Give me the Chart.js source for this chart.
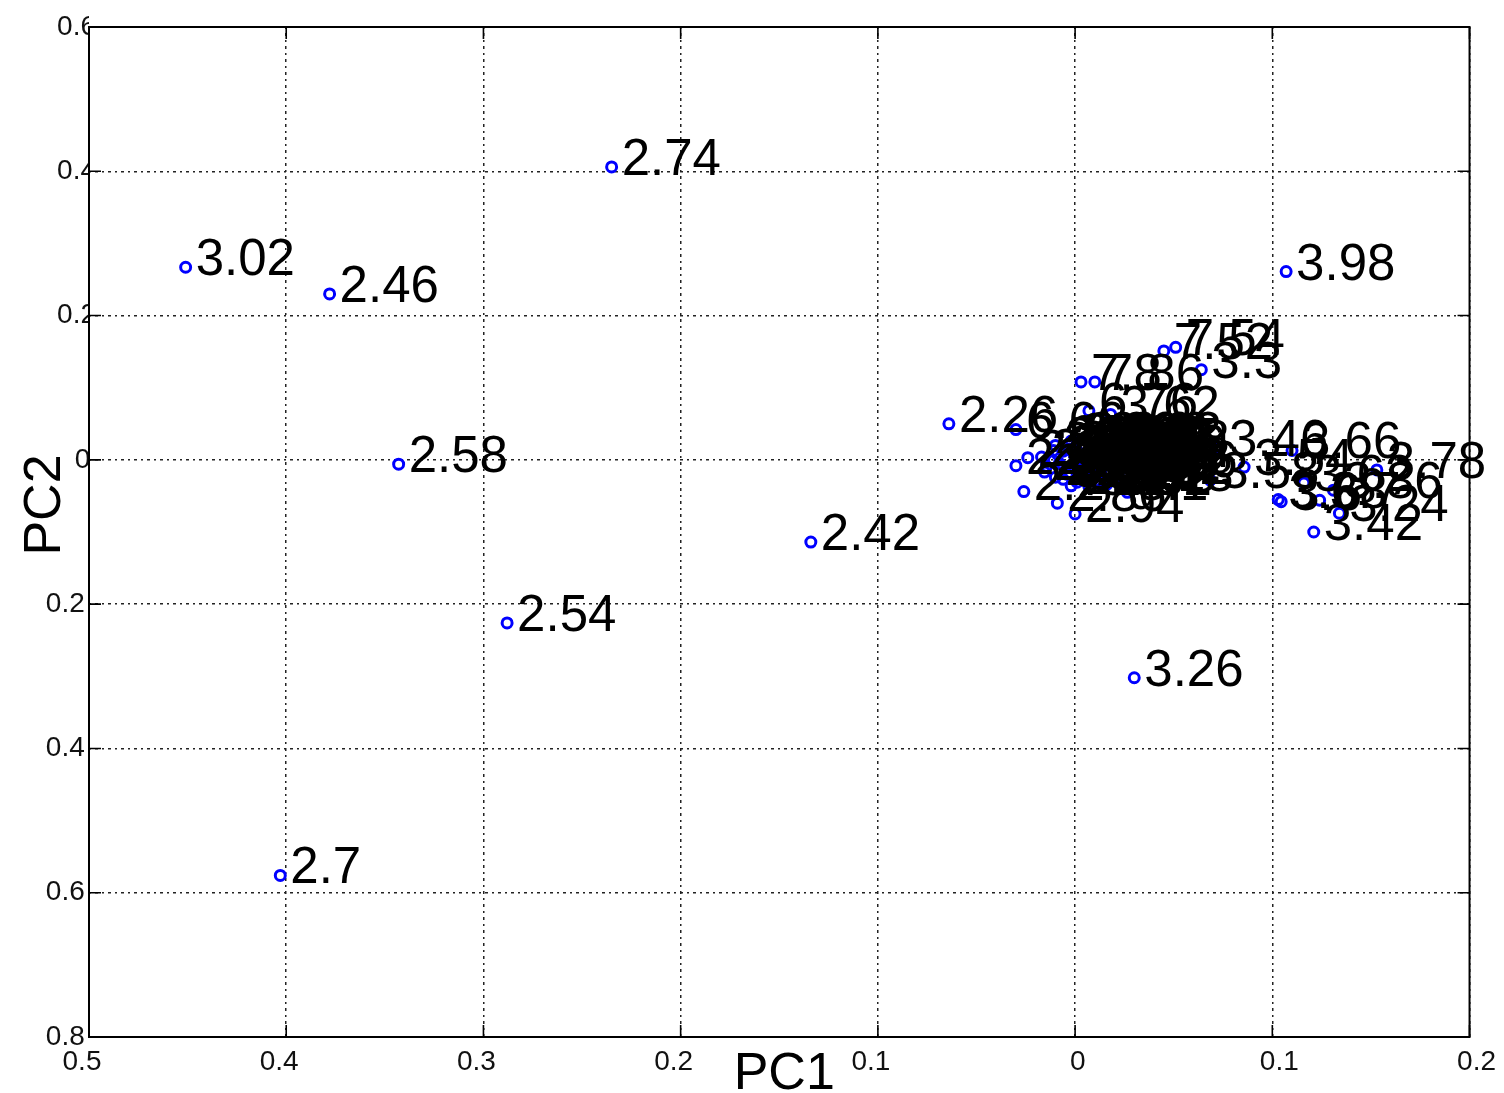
<!DOCTYPE html>
<html>
<head>
<meta charset="utf-8">
<title>PCA scores</title>
<script src="https://cdn.jsdelivr.net/npm/chart.js@4.4.1/dist/chart.umd.min.js"></script>
<style>
  html, body { margin: 0; padding: 0; background: #fff; }
  #wrap { width: 1504px; height: 1093px; }
</style>
</head>
<body>
<div id="wrap"><canvas id="c" width="1504" height="1093"></canvas></div>
<script>
// Principal component scores, labelled with each sample's value
const pc1 = [
  -0.451, -0.378, -0.235, -0.343, -0.134, -0.288, -0.403, 0.030, 0.107, -0.064,
  0.003, 0.010, 0.045, 0.051, 0.064, -0.030, 0.007, 0.018,
  -0.030, -0.024, -0.017, -0.026, -0.0155, -0.0145, -0.009, 0.000, 0.0265,
  0.073, 0.0685, 0.0857, 0.110, 0.103, 0.1045, 0.116, 0.131, 0.124, 0.134, 0.121, 0.153,
  -0.010, -0.008, -0.006, -0.004, -0.002, 0.000, 0.001, 0.003, 0.004, 0.006,
  0.007, 0.009, 0.010, 0.012, 0.013, 0.015, 0.016, 0.018, 0.019, 0.021,
  0.022, 0.024, -0.009, -0.007, -0.005, -0.003, -0.001, 0.002, 0.005, 0.008,
  0.011, 0.014, 0.017, 0.020, 0.023, -0.011, -0.006, 0.002, 0.009, 0.016,
  0.012, 0.005, -0.002, 0.018, 0.022, 0.026, 0.027, 0.025, -0.010, -0.011,
  0.001, 0.019, 0.014, 0.007
];
const pc2 = [
  0.267, 0.230, 0.406, -0.006, -0.114, -0.226, -0.576, -0.302, 0.261, 0.050,
  0.108, 0.108, 0.151, 0.156, 0.125, 0.042, 0.068, 0.063,
  -0.008, 0.003, 0.004, -0.044, -0.017, -0.009, -0.060, -0.075, -0.045,
  0.016, -0.028, -0.010, 0.013, -0.055, -0.058, -0.032, -0.042, -0.056, -0.074, -0.100, -0.014,
  0.020, -0.005, 0.012, -0.020, 0.026, 0.004, -0.031, 0.017, -0.012, 0.008,
  -0.026, 0.023, -0.002, 0.014, -0.017, 0.005, -0.034, 0.019, -0.008, 0.010,
  -0.022, 0.001, 0.008, -0.014, 0.002, 0.015, -0.009, 0.009, -0.004, 0.015,
  -0.029, 0.021, -0.001, -0.015, 0.016, -0.001, -0.027, -0.019, -0.010, 0.012,
  0.027, 0.021, -0.036, -0.028, 0.024, 0.020, -0.012, -0.032, -0.024, 0.013,
  0.027, 0.027, -0.038, -0.037
];
const pointLabels = [
  '3.02', '2.46', '2.74', '2.58', '2.42', '2.54', '2.7', '3.26', '3.98', '2.26',
  '7.8', '7.86', '7.52', '7.54', '3.3', '6.66', '6.76', '3.62',
  '2.3', '2.5', '2.62', '2.2', '2.82', '2.78', '2.86', '2.94', '3.1',
  '3.46', '3.58', '3.54', '3.66', '3.68', '3.6', '3.62', '3.86', '3.7', '3.24', '3.42', '3.78',
  '2.86', '2.9', '3.14', '2.98', '3.06', '2.82', '3.1', '2.94', '3.18', '3.02',
  '2.78', '3.22', '2.9', '3.06', '2.86', '3.14', '2.98', '3.1', '2.74', '3.26',
  '3.02', '2.94', '3.18', '2.82', '3.3', '2.9', '3.06', '2.86', '3.14', '2.98',
  '3.1', '2.82', '3.22', '2.9', '3.18', '2.94', '3.02', '2.78', '3.26', '2.86',
  '3.06', '3.1', '2.98', '3.14', '2.9', '3.3', '2.86', '3.18', '2.9', '3.06',
  '2.94', '3.02', '2.82', '3.14'
];

// Axis tick labels (printed without sign)
const xTickLabels = ['0.5', '0.4', '0.3', '0.2', '0.1', '0', '0.1', '0.2'];
const yTickLabels = ['0.8', '0.6', '0.4', '0.2', '0', '0.2', '0.4', '0.6'];

const FONT = "'Liberation Sans', Arial, Helvetica, sans-serif";

const points = pc1.map((x, i) => ({ x: x, y: pc2[i], label: pointLabels[i] }));

// Draws the value labels, the framed box with inward ticks, and axis titles
const overlay = {
  id: 'overlay',
  afterDatasetsDraw(chart) {
    const ctx = chart.ctx;
    const xs = chart.scales.x, ys = chart.scales.y;
    ctx.save();
    ctx.fillStyle = '#000';
    ctx.font = '51px ' + FONT;
    ctx.textAlign = 'left';
    ctx.textBaseline = 'alphabetic';
    points.forEach(p => {
      ctx.fillText(p.label, xs.getPixelForValue(p.x) + 10, ys.getPixelForValue(p.y) + 8);
    });
    ctx.restore();
  },
  afterDraw(chart) {
    const ctx = chart.ctx;
    const a = chart.chartArea;
    const xs = chart.scales.x, ys = chart.scales.y;
    const tl = 12;
    ctx.save();
    ctx.strokeStyle = '#000';
    ctx.lineWidth = 1.6;
    ctx.beginPath();
    xs.ticks.forEach(t => {
      const px = xs.getPixelForValue(t.value);
      ctx.moveTo(px, a.bottom); ctx.lineTo(px, a.bottom - tl);
      ctx.moveTo(px, a.top); ctx.lineTo(px, a.top + tl);
    });
    ys.ticks.forEach(t => {
      const py = ys.getPixelForValue(t.value);
      ctx.moveTo(a.left, py); ctx.lineTo(a.left + tl, py);
      ctx.moveTo(a.right, py); ctx.lineTo(a.right - tl, py);
    });
    ctx.stroke();
    ctx.lineWidth = 2;
    ctx.strokeRect(a.left, a.top, a.right - a.left, a.bottom - a.top);

    ctx.fillStyle = '#000';
    ctx.font = '52px ' + FONT;
    ctx.textAlign = 'center';
    ctx.textBaseline = 'alphabetic';
    ctx.fillText('PC1', (a.left + a.right) / 2 + 5, a.bottom + 52);
    ctx.translate(a.left - 29, (a.top + a.bottom) / 2 - 27);
    ctx.rotate(-Math.PI / 2);
    ctx.fillText('PC2', 0, 0);
    ctx.restore();
  }
};

const gridStyle = { color: '#222', lineWidth: 1.5, drawTicks: false };
const dottedBorder = { display: false, dash: [2, 4, 3, 4] };

new Chart(document.getElementById('c'), {
  type: 'scatter',
  data: {
    datasets: [{
      data: points,
      pointStyle: 'circle',
      pointRadius: 5,
      pointHoverRadius: 5,
      pointBorderWidth: 3,
      pointBorderColor: '#0000ff',
      pointBackgroundColor: 'rgba(0,0,0,0)'
    }]
  },
  options: {
    responsive: false,
    animation: false,
    events: [],
    layout: { padding: { top: 27, right: 31, left: 0, bottom: 0 } },
    plugins: { legend: { display: false }, tooltip: { enabled: false } },
    scales: {
      x: {
        type: 'linear',
        min: -0.5, max: 0.2,
        afterFit(s) { s.height = 56; },
        border: dottedBorder,
        grid: gridStyle,
        ticks: {
          stepSize: 0.1,
          padding: 8,
          color: '#111',
          font: { family: FONT, size: 28 },
          maxRotation: 0,
          autoSkip: false,
          callback(v, i) {
            const s = xTickLabels[i];
            if (Math.abs(v) < 1e-9) return '\u2009' + s;
            return v < 0 ? s + '\u2002' : '\u2002' + s;
          }
        }
      },
      y: {
        type: 'linear',
        min: -0.8, max: 0.6,
        afterFit(s) { s.width = 89; },
        border: dottedBorder,
        grid: gridStyle,
        ticks: {
          stepSize: 0.2,
          padding: -7,
          color: '#111',
          font: { family: FONT, size: 28 },
          autoSkip: false,
          callback(v, i) {
            const s = yTickLabels[i];
            if (Math.abs(v) < 1e-9) return s + '\u2009';
            return v < 0 ? s + '\u2009\u2009' : s;
          }
        }
      }
    }
  },
  plugins: [overlay]
});
</script>
</body>
</html>
